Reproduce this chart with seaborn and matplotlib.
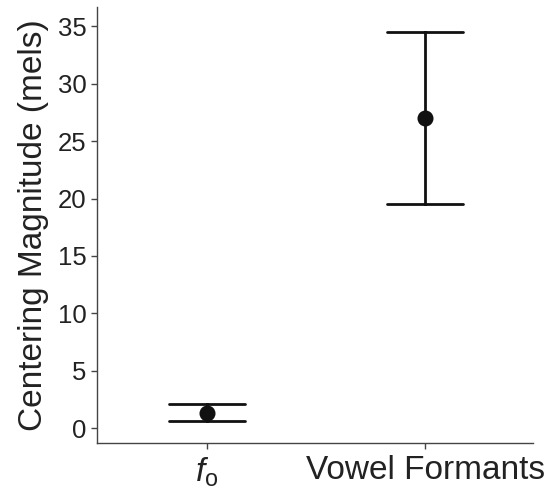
import matplotlib
matplotlib.use("Agg")
import matplotlib.pyplot as plt
import seaborn as sns
import pandas as pd

categories = ["fo", "Vowel Formants"]
means = [1.28, 27.0]
lower = [0.64, 19.5]
upper = [2.07, 34.5]
tick_labels = [r"$f_{\mathrm{o}}$", "Vowel Formants"]
yticks = [0, 5, 10, 15, 20, 25, 30, 35]

sns.set_theme(style="ticks")
plt.rcParams["font.family"] = ["Liberation Sans", "DejaVu Sans"]
plt.rcParams["mathtext.fontset"] = "custom"
plt.rcParams["mathtext.rm"] = "Liberation Sans"
plt.rcParams["mathtext.it"] = "Liberation Sans:italic"

rows = []
for c, lo, m, hi in zip(categories, lower, means, upper):
    for v in (lo, m, hi):
        rows.append({"cat": c, "val": v})
df = pd.DataFrame(rows)

fig = plt.figure(figsize=(5.53, 4.9), dpi=100)
ax = fig.add_axes([0.175, 0.096, 0.789, 0.89])

sns.pointplot(data=df, x="cat", y="val", order=categories,
              estimator="median", errorbar=("pi", 100),
              capsize=0.35, linestyle="none", color="#111111",
              markers="o", markersize=9.5, err_kws={"linewidth": 2.0},
              ax=ax)

ax.set_xlim(-0.505, 1.495)
ax.set_ylim(-1.3, 36.7)
ax.set_yticks(yticks)
ax.set_yticklabels([str(t) for t in yticks], fontsize=18.5)
ax.set_xticks(range(len(categories)))
ax.set_xticklabels(tick_labels, fontsize=24)
ax.set_xlabel("")
ax.set_ylabel("Centering Magnitude (mels)", fontsize=24, color="#222222", labelpad=6)
for s in ("top", "right"):
    ax.spines[s].set_visible(False)
for s in ("left", "bottom"):
    ax.spines[s].set_color("#444444")
    ax.spines[s].set_linewidth(1.0)
ax.tick_params(axis="both", colors="#444444", length=4, width=1.0, labelcolor="#222222")
ax.tick_params(axis="x", pad=5)

fig.savefig("out.png", dpi=100)
